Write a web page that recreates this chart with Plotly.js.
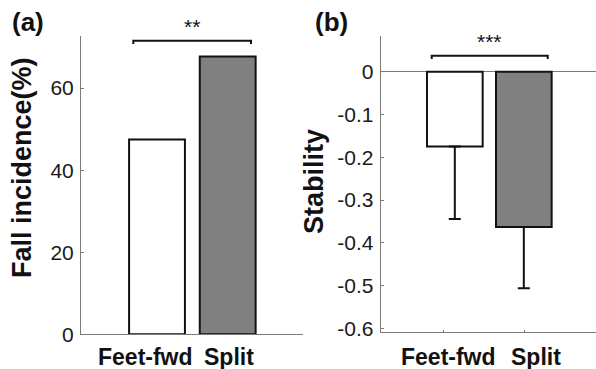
<!DOCTYPE html>
<html>
<head>
<meta charset="utf-8">
<script src="https://cdn.plot.ly/plotly-3.0.1.min.js"></script>
<style>html,body{margin:0;padding:0;background:#fff}#chart{width:596px;height:369px}</style>
</head>
<body>
<div id="chart"></div>
<script>
// ---- data ----
const categories = ['Feet-fwd', 'Split'];
const fallIncidence = [47.5, 67.7];          // %
const stability = [-0.175, -0.363];           // mean
const stabilitySD = [0.169, 0.143];           // lower error
const fallTicks = [0, 20, 40, 60];
const stabTicks = [-0.6, -0.5, -0.4, -0.3, -0.2, -0.1, 0];
const stabTickText = ['-0.6', '-0.5', '-0.4', '-0.3', '-0.2', '-0.1', '0'];
const barColors = ['#ffffff', '#808080'];
const sigA = '**';
const sigB = '***';

// ---- helpers for pixel placement ----
const W = 596, H = 369;
const px = x => x / W;
const py = y => 1 - y / H;
const FONT = 'Liberation Sans, Arial, sans-serif';
const AX = '#7a7a7a';
const pos = categories.map((c, i) => i);

const traces = [
  {
    type: 'bar', x: pos, y: fallIncidence, xaxis: 'x', yaxis: 'y',
    width: 0.79, text: categories, textposition: 'none',
    marker: {color: barColors, line: {color: '#111', width: 2}},
    hoverinfo: 'none'
  },
  {
    type: 'bar', x: pos, y: stability, xaxis: 'x2', yaxis: 'y2',
    width: 0.807, text: categories, textposition: 'none',
    marker: {color: barColors, line: {color: '#111', width: 2}},
    error_y: {type: 'data', symmetric: false, array: [0, 0], arrayminus: stabilitySD,
              color: '#111', thickness: 2, width: 6},
    hoverinfo: 'none'
  }
];

const baseAxis = {
  showline: true, linecolor: AX, linewidth: 1, mirror: false,
  showgrid: false, zeroline: false,
  ticks: 'inside', ticklen: 3, tickcolor: AX, tickwidth: 1,
  tickfont: {family: FONT, size: 21, color: '#1a1a1a'}
};

const layout = {
  width: W, height: H,
  margin: {l: 0, r: 0, t: 0, b: 0},
  paper_bgcolor: '#fff', plot_bgcolor: 'rgba(0,0,0,0)',
  showlegend: false,
  xaxis: Object.assign({}, baseAxis, {
    domain: [px(81), px(303)], range: [-1.075, 2.065], type: 'linear',
    showticklabels: false, ticks: '', anchor: 'y'
  }),
  yaxis: Object.assign({}, baseAxis, {
    domain: [py(334.3), py(36)], range: [0, 72.7],
    tickvals: fallTicks, anchor: 'x', ticklabelstandoff: 2
  }),
  xaxis2: Object.assign({}, baseAxis, {
    domain: [px(380.7), 1], range: [-1.074, 2.046], type: 'linear',
    showticklabels: false, tickmode: 'array', tickvals: [-0.167, 1.007], ticklen: 2, anchor: 'y2'
  }),
  yaxis2: Object.assign({}, baseAxis, {
    domain: [py(331.7), py(36)], range: [-0.6075, 0.0834],
    tickvals: stabTicks, ticktext: stabTickText, anchor: 'x2',
    zeroline: true, zerolinecolor: AX, zerolinewidth: 1, ticklabelstandoff: 2
  }),
  shapes: [
    // bracket (a)
    {type: 'path', xref: 'paper', yref: 'paper',
     path: `M ${px(133.3)},${py(44)} L ${px(133.3)},${py(40.7)} L ${px(251)},${py(40.7)} L ${px(251)},${py(44)}`,
     line: {color: '#111', width: 2}},
    // bracket (b)
    {type: 'path', xref: 'paper', yref: 'paper',
     path: `M ${px(431.7)},${py(59)} L ${px(431.7)},${py(55.7)} L ${px(547.7)},${py(55.7)} L ${px(547.7)},${py(59)}`,
     line: {color: '#111', width: 2}}
  ],
  annotations: [
    {text: '<b>(a)</b>', xref: 'paper', yref: 'paper', x: px(28), y: py(22), showarrow: false,
     xanchor: 'center', yanchor: 'middle', font: {family: FONT, size: 26, color: '#111'}},
    {text: '<b>(b)</b>', xref: 'paper', yref: 'paper', x: px(331.5), y: py(22), showarrow: false,
     xanchor: 'center', yanchor: 'middle', font: {family: FONT, size: 26, color: '#111'}},
    {text: '<b>Fall incidence(%)</b>', xref: 'paper', yref: 'paper', x: px(22), y: py(168), showarrow: false,
     textangle: -90, xanchor: 'center', yanchor: 'middle', font: {family: FONT, size: 27, color: '#111'}},
    {text: '<b>Stability</b>', xref: 'paper', yref: 'paper', x: px(314), y: py(182), showarrow: false,
     textangle: -90, xanchor: 'center', yanchor: 'middle', font: {family: FONT, size: 27, color: '#111'}},
    {text: '<b>' + categories[0] + '</b>', xref: 'paper', yref: 'paper', x: px(145.5), y: py(357), showarrow: false,
     xanchor: 'center', yanchor: 'middle', font: {family: FONT, size: 23, color: '#111'}},
    {text: '<b>' + categories[1] + '</b>', xref: 'paper', yref: 'paper', x: px(229), y: py(357), showarrow: false,
     xanchor: 'center', yanchor: 'middle', font: {family: FONT, size: 23, color: '#111'}},
    {text: '<b>' + categories[0] + '</b>', xref: 'paper', yref: 'paper', x: px(448), y: py(357), showarrow: false,
     xanchor: 'center', yanchor: 'middle', font: {family: FONT, size: 23, color: '#111'}},
    {text: '<b>' + categories[1] + '</b>', xref: 'paper', yref: 'paper', x: px(536), y: py(357), showarrow: false,
     xanchor: 'center', yanchor: 'middle', font: {family: FONT, size: 23, color: '#111'}},
    {text: sigA, xref: 'paper', yref: 'paper', x: px(192), y: py(40), showarrow: false,
     xanchor: 'center', yanchor: 'bottom', font: {family: FONT, size: 21, color: '#111'}},
    {text: sigB, xref: 'paper', yref: 'paper', x: px(489), y: py(55), showarrow: false,
     xanchor: 'center', yanchor: 'bottom', font: {family: FONT, size: 21, color: '#111'}}
  ]
};

Plotly.newPlot('chart', traces, layout, {staticPlot: true, displayModeBar: false});
</script>
</body>
</html>
